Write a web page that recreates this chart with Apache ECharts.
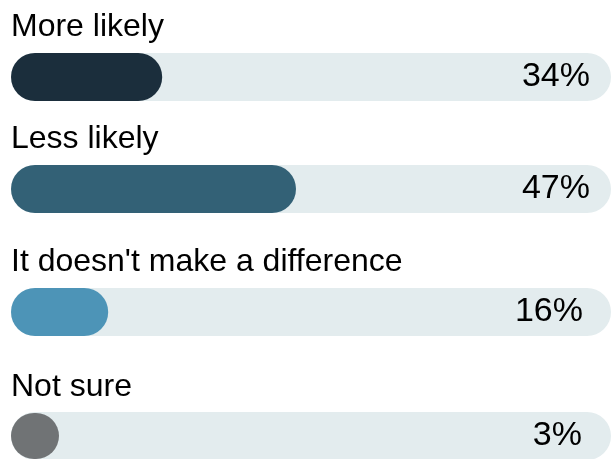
<!DOCTYPE html>
<html>
<head>
<meta charset="utf-8">
<script src="https://cdn.jsdelivr.net/npm/echarts@6/dist/echarts.min.js"></script>
<style>
html,body{margin:0;padding:0;background:#fff;}
#c{width:611px;height:459px;}
</style>
</head>
<body>
<div id="c"></div>
<script>
// Data
var categories = ['More likely', 'Less likely', "It doesn't make a difference", 'Not sure'];
var barValues = [25.2, 47.5, 16.2, 3];         // drawn bar lengths (% of track)
var pctLabels = ['34%', '47%', '16%', '3%'];   // printed percentages
var barColors = ['#1b2e3c', '#336176', '#4d94b7', '#707375'];

// Layout
var rowTops = [53, 165, 288, 413];
var pctMargins = [21, 21, 28, 29];
var barH = 48;
var font = '"Liberation Sans", Arial, sans-serif';

var grids = [], xAxes = [], yAxes = [], series = [], titles = [];
categories.forEach(function (cat, i) {
  grids.push({ left: 11, right: 0, top: rowTops[i], height: barH, containLabel: false });
  xAxes.push({ gridIndex: i, type: 'value', min: 0, max: 100, show: false });
  yAxes.push({ gridIndex: i, type: 'category', data: [cat], show: false });
  yAxes.push({
    gridIndex: i, type: 'category', position: 'right', data: [pctLabels[i]], z: 10,
    axisLine: { show: false }, axisTick: { show: false }, splitLine: { show: false },
    axisLabel: { inside: true, margin: pctMargins[i], color: '#000', fontSize: 34,
                 fontFamily: font, padding: [0, 0, 5, 0] }
  });
  series.push({
    type: 'bar', xAxisIndex: i, yAxisIndex: i * 2, data: [barValues[i]],
    barWidth: barH, barMinHeight: barH, silent: true,
    showBackground: true,
    backgroundStyle: { color: '#e3ecee', borderRadius: barH / 2 },
    itemStyle: { color: barColors[i], borderRadius: barH / 2 },
    z: 2
  });
  titles.push({
    text: cat, left: 11, top: rowTops[i] - 42, padding: 0,
    textStyle: { fontSize: 32, fontWeight: 'normal', color: '#000', fontFamily: font }
  });
});

var chart = echarts.init(document.getElementById('c'), null, { renderer: 'canvas' });
chart.setOption({
  animation: false,
  backgroundColor: '#fff',
  title: titles,
  grid: grids,
  xAxis: xAxes,
  yAxis: yAxes,
  series: series
});
</script>
</body>
</html>
